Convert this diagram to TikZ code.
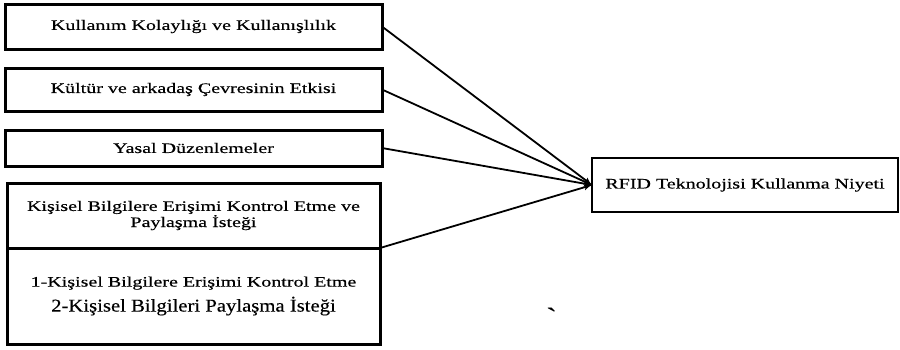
\documentclass[tikz,border=0pt]{standalone}
\usepackage{fontspec}
\setmainfont{Liberation Serif}[FakeStretch=1.38, FakeBold=0.4]
\newfontfamily\buyukyazi{Liberation Serif}[FakeStretch=1.15, FakeBold=0.4]
\usepackage{tikz}
\usetikzlibrary{shapes,arrows,positioning}
\tikzstyle{block} = [rectangle, draw, line width=3pt, text centered, outer sep=0pt,
    minimum width=377pt, inner sep=0pt, font=\fontsize{14.5}{13.5}\selectfont]
\tikzstyle{line} = [draw, line width=1.8pt, -latex']

\begin{document}
\begin{tikzpicture}[x=1pt, y=-1pt, node distance=19pt]
    \useasboundingbox (0,0) rectangle (900,349);
    % Place nodes
    \node [block, minimum height=45pt] (kolaylik) at (193.5,26.5) {Kullanım Kolaylığı ve Kullanışlılık};
    \node [block, minimum height=43pt, below=of kolaylik] (kultur) {Kültür ve arkadaş Çevresinin Etkisi};
    \node [block, minimum height=36pt, below=of kultur] (yasal) {Yasal Düzenlemeler};
    \node [block, minimum width=373pt, minimum height=65pt, below=17pt of yasal, align=center] (kisisel)
        {Kişisel Bilgilere Erişimi Kontrol Etme ve\\Paylaşma İsteği};
    \node [block, minimum width=373pt, minimum height=96pt, below=0pt of kisisel, align=center] (alt)
        {1-Kişisel Bilgilere Erişimi Kontrol Etme\\[6pt]{\buyukyazi\fontsize{18}{18}\selectfont 2-Kişisel Bilgileri Paylaşma İsteği}};
    \node [block, minimum width=306pt, minimum height=54pt, line width=2.5pt] (niyet) at (745,185) {RFID Teknolojisi Kullanma Niyeti};
    \node [font=\fontsize{24}{24}\selectfont] (isaret) at (550,316) {\textasciigrave};
    % Draw edges
    \path [line] (kolaylik.east) -- (niyet.west);
    \path [line] (kultur.east) -- (niyet.west);
    \path [line] (yasal.east) -- (niyet.west);
    \path [line] (kisisel.south east) -- (niyet.west);
\end{tikzpicture}
\end{document}
